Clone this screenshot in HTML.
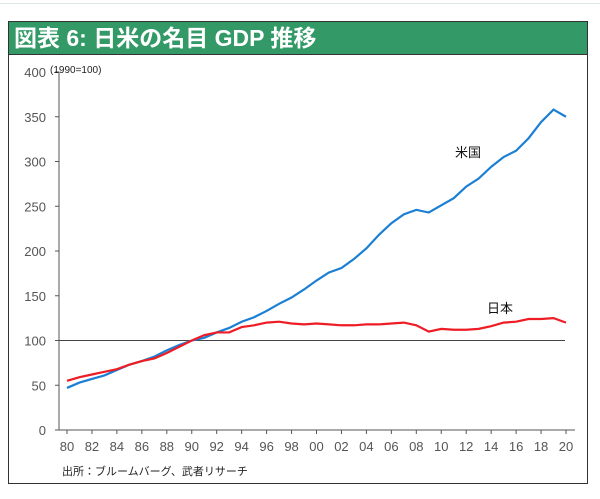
<!DOCTYPE html>
<html><head><meta charset="utf-8"><style>
body{margin:0;background:#fff;width:600px;height:499px;overflow:hidden;font-family:"Liberation Sans","Noto Sans CJK JP",sans-serif}
</style></head><body>
<div style="position:absolute;left:0;top:3px;width:600px;height:1px;background:#dde6e6"></div>
<div style="position:absolute;left:8px;top:21px;width:578px;height:461px;border:1px solid #333"></div>
<div style="position:absolute;left:9px;top:22px;width:578px;height:33px;background:#339966;border-bottom:1px solid #333;color:#fff;font-weight:bold;font-size:23px;line-height:33px;padding-left:5px;box-sizing:border-box">図表 6: 日米の名目 GDP 推移</div>
<svg id="c" width="600" height="499" style="position:absolute;left:0;top:0"></svg>
<script>
const years=[];for(let y=1980;y<=2020;y++)years.push(y);
const usValues=[47,53,57,61,67,73,77,82,89,95,100,103,109,114,121,126,133,141,148,157,167,176,181,191,203,218,231,241,246,243,251,259,272,281,294,305,312,326,344,358,350];
const jpValues=[55,59,62,65,68,73,77,80,86,93,100,106,109,109,115,117,120,121,119,118,119,118,117,117,118,118,119,120,117,110,113,112,112,113,116,120,121,124,124,125,120];
const yTicks=[0,50,100,150,200,250,300,350,400];
const xTickLabels=["80","82","84","86","88","90","92","94","96","98","00","02","04","06","08","10","12","14","16","18","20"];
const svg=document.getElementById('c');const NS='http://www.w3.org/2000/svg';
const X=y=>67+(y-1980)*12.475;const Y=v=>430-v*0.895;
function el(t,a,txt){const e=document.createElementNS(NS,t);for(const k in a)e.setAttribute(k,a[k]);if(txt!=null)e.textContent=txt;svg.appendChild(e);return e;}
let e;
e=el('line',{x1:59,y1:Y(400),x2:59,y2:430,stroke:'#555'});


e=el('line',{x1:59,y1:430,x2:575,y2:430,stroke:'#555'});


yTicks.forEach(v=>{
e=el('line',{x1:55,y1:Y(v),x2:59,y2:Y(v),stroke:'#555'});


e=el('text',{x:46,y:Y(v)+5,'text-anchor':'end','font-size':13,fill:'#555'},v);


});
xTickLabels.forEach((l,i)=>{const x=X(1980+2*i);
e=el('line',{x1:x,y1:430,x2:x,y2:434,stroke:'#555'});


e=el('text',{x:x,y:451,'text-anchor':'middle','font-size':13,fill:'#555'},l);


});
e=el('text',{x:50,y:73,'font-size':10,fill:'#222'},'(1990=100)');


e=el('line',{x1:59,y1:Y(100),x2:565,y2:Y(100),stroke:'#444','stroke-width':1});


function series(vals,color,name){
e=el('polyline',{points:vals.map((v,i)=>X(years[i])+','+Y(v)).join(' '),fill:'none',stroke:color,'stroke-width':2.2});


}
series(usValues,'#1b7fd4','us-line');
series(jpValues,'#ee1c25','japan-line');
e=el('text',{x:455,y:157,'font-size':13,fill:'#111'},'米国');


e=el('text',{x:487,y:313,'font-size':13,fill:'#111'},'日本');


e=el('text',{x:62,y:475,'font-size':11,fill:'#222'},'出所：ブルームバーグ、武者リサーチ');


</script>
</body></html>
